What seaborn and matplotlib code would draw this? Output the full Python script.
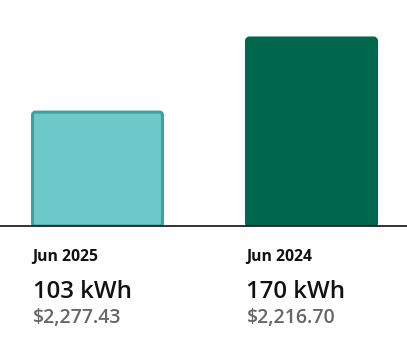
import matplotlib
matplotlib.use("Agg")
import matplotlib.pyplot as plt
import matplotlib.transforms as mtransforms
from matplotlib.patches import FancyBboxPatch
import seaborn as sns
import pandas as pd

months = ["Jun 2025", "Jun 2024"]
usage_kwh = [103, 170]
costs = ["$2,277.43", "$2,216.70"]
fill_colors = ["#6ECACA", "#00674F"]
edge_colors = ["#3AA39D", "#00674F"]

sns.set_theme(style="white")
plt.rcParams["font.family"] = ["Open Sans", "DejaVu Sans"]

df = pd.DataFrame({"month": months, "kwh": usage_kwh})

W, H = 407, 353
fig = plt.figure(figsize=(W / 100, H / 100), dpi=100)
base_px = 226
ax = fig.add_axes([0, (H - base_px) / H, 1, base_px / H])

sns.barplot(data=df, x="month", y="kwh", hue="month", palette=fill_colors,
            width=130 / 214, legend=False, ax=ax, saturation=1)

# replace bars by rounded-corner versions (in pixel-aspect units)
xpix = 214.0
ypix = base_px / (170 * base_px / 188)
for p, ec in zip(list(ax.patches), edge_colors):
    x, y = p.get_x(), p.get_y()
    w, h = p.get_width(), p.get_height()
    fc = p.get_facecolor()
    p.set_visible(False)
    r = 3.0
    fb = FancyBboxPatch((x, y), w, h,
                        boxstyle=f"round,pad=0,rounding_size={r / xpix}",
                        mutation_aspect=xpix / ypix,
                        facecolor=fc, edgecolor=ec, linewidth=2.2, zorder=3)
    ax.add_patch(fb)

ax.set_xlim(-97.5 / 214, 1 + (W - 311.5) / 214)
ax.set_ylim(0, 170 * base_px / 188)
ax.axis("off")
ax.axhline(0, color="#111111", lw=1.2, clip_on=False, zorder=5)

trans = mtransforms.blended_transform_factory(ax.transData, fig.transFigure)
half = (130 / 214) / 2
for i, (m, k, c) in enumerate(zip(months, usage_kwh, costs)):
    x0 = i - half
    fig.text(x0, 1 - 261 / H, m, transform=trans, ha="left", va="baseline",
             fontsize=11.3, fontweight="bold", color="#111111")
    fig.text(x0, 1 - 297.5 / H, f"{k} kWh", transform=trans, ha="left",
             va="baseline", fontsize=17.3, fontweight="semibold", color="#111111")
    fig.text(x0, 1 - 322.5 / H, c, transform=trans, ha="left",
             va="baseline", fontsize=14, fontweight="semibold", color="#666666")

fig.savefig("out.png", dpi=100)
